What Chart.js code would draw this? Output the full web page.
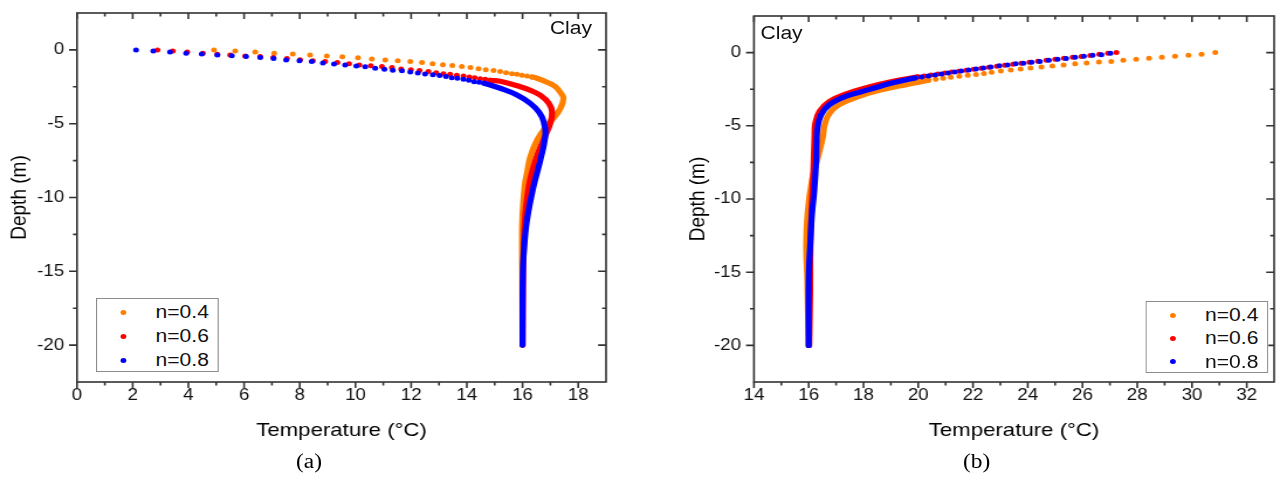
<!DOCTYPE html>
<html>
<head>
<meta charset="utf-8">
<script src="https://cdn.jsdelivr.net/npm/chart.js@4.4.1/dist/chart.umd.min.js"></script>
<style>
  html, body { margin: 0; padding: 0; background: #fff; }
  body { width: 1279px; height: 477px; overflow: hidden; position: relative; }
  /* the original figure is stretched sideways, so the whole stage is too */
  #stage { position: absolute; left: 0; top: 0; width: 1093px; height: 477px;
           transform: scaleX(1.17); transform-origin: 0 0;
           font-family: "Liberation Sans", Arial, sans-serif; color: #111; }
  canvas { position: absolute; top: 0; }
  .txt { position: absolute; white-space: nowrap; font-size: 18px; line-height: 18px; }
  .cap { position: absolute; white-space: nowrap; font-family: "Liberation Serif", "Times New Roman", serif;
         font-size: 20px; line-height: 20px; color: #000; }
  .legend { position: absolute; border: 1px solid #8c8c8c; background: #fff; box-sizing: border-box; }
  .legend .row { position: relative; height: 24px; line-height: 24px; font-size: 18px; }
  .legend .dot { position: absolute; left: 20px; top: 9.5px; width: 5px; height: 5px; border-radius: 50%; }
  .legend .lbl { position: absolute; left: 50px; top: 0; }
</style>
</head>
<body>
<div id="stage">
  <canvas id="chartA" width="548" height="477" style="left:0"></canvas>
  <canvas id="chartB" width="545" height="477" style="left:548px"></canvas>

  <div class="txt" style="left:470px; top:19px">Clay</div>
  <div class="txt" style="left:650px; top:24px">Clay</div>

  <div class="legend" style="left:82px; top:298px; width:105px; height:74px; padding-top:1px">
    <div class="row"><span class="dot" style="background:#ff8000"></span><span class="lbl">n=0.4</span></div>
    <div class="row"><span class="dot" style="background:#ff0000"></span><span class="lbl">n=0.6</span></div>
    <div class="row"><span class="dot" style="background:#0000ff"></span><span class="lbl">n=0.8</span></div>
  </div>
  <div class="legend" style="left:979px; top:301px; width:105px; height:72px; padding-top:1px">
    <div class="row" style="height:23.3px"><span class="dot" style="background:#ff8000"></span><span class="lbl">n=0.4</span></div>
    <div class="row" style="height:23.3px"><span class="dot" style="background:#ff0000"></span><span class="lbl">n=0.6</span></div>
    <div class="row" style="height:23.3px"><span class="dot" style="background:#0000ff"></span><span class="lbl">n=0.8</span></div>
  </div>

  <div class="cap" style="left:253px; top:451px">(a)</div>
  <div class="cap" style="left:823px; top:451px">(b)</div>
</div>

<script>
// ---- axis ticks ----
const xTicksA = [0, 2, 4, 6, 8, 10, 12, 14, 16, 18];
const xMinorA = [1, 3, 5, 7, 9, 11, 13, 15, 17];
const xTicksB = [14, 16, 18, 20, 22, 24, 26, 28, 30, 32];
const xMinorB = [15, 17, 19, 21, 23, 25, 27, 29, 31];
const yTicks = [-20, -15, -10, -5, 0];
const yMinor = [-17.5, -12.5, -7.5, -2.5];

// ---- (a) ----
// separate dots near the surface
const a04DotT = [4.92, 5.68, 6.40, 7.08, 7.75, 8.37, 8.97, 9.53, 10.09, 10.59, 11.07, 11.52, 11.97, 12.39, 12.77, 13.14, 13.48, 13.82, 14.13, 14.42, 14.68, 14.96, 15.20, 15.41, 15.62, 15.80, 15.98, 16.16, 16.34];
const a04DotD = [0, -0.07, -0.14, -0.22, -0.27, -0.34, -0.41, -0.47, -0.54, -0.61, -0.68, -0.73, -0.79, -0.86, -0.93, -1.00, -1.06, -1.13, -1.20, -1.27, -1.34, -1.40, -1.47, -1.54, -1.61, -1.65, -1.72, -1.76, -1.83];
// dense part (dots merge into a band)
const a04LineT = [16.34, 16.52, 16.88, 17.18, 17.38, 17.47, 17.36, 17.11, 16.88, 16.52, 16.28, 16.16, 16.08, 16.00, 15.98, 15.99, 16.00];
const a04LineD = [-1.83, -1.92, -2.19, -2.49, -2.94, -3.28, -3.96, -4.63, -5.09, -6.11, -7.24, -8.34, -9.16, -11.06, -12.89, -15.0, -20.0];

const a06DotT = [2.89, 3.44, 3.96, 4.52, 5.04, 5.50, 6.04, 6.58, 7.05, 7.54, 8.01, 8.47, 8.91, 9.35, 9.77, 10.14, 10.55, 10.95, 11.31, 11.64, 11.99, 12.30, 12.62, 12.90, 13.16, 13.40, 13.64, 13.88, 14.09, 14.28, 14.48, 14.66, 14.84];
const a06DotD = [0, -0.07, -0.14, -0.22, -0.29, -0.34, -0.41, -0.45, -0.52, -0.59, -0.66, -0.73, -0.79, -0.86, -0.93, -1.02, -1.07, -1.13, -1.20, -1.29, -1.34, -1.40, -1.47, -1.54, -1.61, -1.65, -1.72, -1.76, -1.83, -1.88, -1.95, -1.99, -2.06];
const a06LineT = [14.84, 15.20, 15.84, 16.33, 16.64, 16.94, 17.06, 17.00, 16.80, 16.55, 16.38, 16.24, 16.10, 16.04, 16.02, 16.00];
const a06LineD = [-2.06, -2.13, -2.45, -2.78, -3.08, -3.60, -4.18, -4.97, -5.90, -7.00, -8.00, -9.09, -11.06, -13.57, -16.5, -20.0];

const a08DotT = [2.12, 2.74, 3.34, 3.92, 4.48, 5.04, 5.56, 6.07, 6.58, 7.06, 7.51, 7.99, 8.43, 8.83, 9.23, 9.63, 10.03, 10.35, 10.71, 11.04, 11.34, 11.67, 11.97, 12.24, 12.50, 12.78, 13.02, 13.25, 13.46, 13.66, 13.88, 14.07, 14.26, 14.44, 14.62];
const a08DotD = [0, -0.07, -0.14, -0.22, -0.27, -0.34, -0.39, -0.45, -0.52, -0.59, -0.68, -0.73, -0.79, -0.88, -0.95, -1.02, -1.09, -1.15, -1.24, -1.31, -1.38, -1.42, -1.49, -1.56, -1.63, -1.68, -1.74, -1.81, -1.88, -1.92, -1.99, -2.06, -2.15, -2.19, -2.26];
const a08LineT = [14.62, 15.20, 15.80, 16.28, 16.58, 16.76, 16.82, 16.64, 16.39, 16.16, 16.06, 16.01, 16.00];
const a08LineD = [-2.26, -2.60, -3.05, -3.62, -4.19, -4.86, -5.77, -7.46, -9.29, -11.53, -13.34, -15.13, -20.0];

// ---- (b) ----
const b04DotT = [30.85, 30.35, 29.87, 29.38, 28.90, 28.43, 27.96, 27.49, 27.05, 26.60, 26.15, 25.73, 25.31, 24.90, 24.50, 24.10, 23.74, 23.38, 23.02, 22.68, 22.40, 22.11, 21.81, 21.50, 21.19, 20.91, 20.64, 20.37];
const b04DotD = [0, -0.12, -0.18, -0.25, -0.32, -0.39, -0.46, -0.53, -0.60, -0.64, -0.71, -0.77, -0.84, -0.91, -0.98, -1.05, -1.12, -1.18, -1.25, -1.35, -1.42, -1.49, -1.55, -1.62, -1.69, -1.76, -1.82, -1.89];
const b04LineT = [20.37, 19.88, 19.04, 18.20, 17.35, 16.93, 16.69, 16.57, 16.51, 16.31, 16.12, 15.96, 15.91, 15.95, 15.99];
const b04LineD = [-1.89, -2.08, -2.38, -2.76, -3.34, -3.79, -4.36, -5.05, -5.84, -7.33, -8.70, -10.96, -13.27, -15.55, -20.0];

const b06DotT = [27.24, 26.93, 26.61, 26.28, 25.96, 25.64, 25.32, 25.00, 24.68, 24.37, 24.06, 23.76, 23.46, 23.16, 22.87, 22.58, 22.30, 22.02, 21.75, 21.48, 21.22, 20.97, 20.72, 20.47, 20.22, 19.98];
const b06DotD = [0, -0.05, -0.12, -0.19, -0.26, -0.32, -0.39, -0.46, -0.52, -0.59, -0.66, -0.72, -0.79, -0.86, -0.93, -1.00, -1.07, -1.13, -1.20, -1.27, -1.33, -1.40, -1.46, -1.53, -1.60, -1.66];
const b06LineT = [19.98, 19.04, 18.20, 17.35, 16.75, 16.39, 16.24, 16.21, 16.17, 16.10, 16.06, 16.05, 16.02];
const b06LineD = [-1.66, -1.97, -2.35, -2.83, -3.34, -4.02, -4.82, -5.73, -8.01, -10.96, -13.5, -16.5, -20.0];

const b08DotT = [27.02, 26.69, 26.37, 26.05, 25.73, 25.40, 25.09, 24.77, 24.44, 24.14, 23.84, 23.56, 23.26, 22.96, 22.65, 22.38, 22.11, 21.84, 21.57, 21.33, 21.09, 20.85, 20.61, 20.37, 20.12, 19.88];
const b08DotD = [-0.04, -0.14, -0.18, -0.25, -0.32, -0.40, -0.46, -0.53, -0.60, -0.66, -0.73, -0.77, -0.84, -0.89, -0.98, -1.05, -1.12, -1.18, -1.25, -1.32, -1.39, -1.46, -1.53, -1.60, -1.67, -1.73];
const b08LineT = [19.88, 19.04, 18.20, 17.35, 16.75, 16.45, 16.33, 16.29, 16.27, 16.20, 16.12, 16.05, 16.00, 16.00];
const b08LineD = [-1.73, -2.08, -2.53, -2.99, -3.56, -4.25, -5.05, -5.96, -7.5, -9.5, -11.0, -13.27, -15.55, -20.0];

const ORANGE = '#ff8000', RED = '#ff0000', BLUE = '#0000ff';

function pts(T, D) {
  return T.map((t, i) => ({ x: t, y: D[i] }));
}
function dots(T, D, color, order) {
  return { data: pts(T, D), showLine: false, pointRadius: 2.5, pointBorderWidth: 0,
           pointBackgroundColor: color, backgroundColor: color, order: order };
}
function band(T, D, color, order) {
  return { data: pts(T, D), showLine: true, pointRadius: 0, borderColor: color,
           borderWidth: 5.2, tension: 0.4, borderCapStyle: 'round', borderJoinStyle: 'round', order: order };
}

// frame plus major/minor ticks: bottom/left outward, top/right inward
const frameTicks = {
  id: 'frameTicks',
  afterDraw(chart, args, o) {
    const ctx = chart.ctx, a = chart.chartArea, x = chart.scales.x, y = chart.scales.y;
    ctx.save();
    ctx.strokeStyle = '#333';
    ctx.lineWidth = 1.6;
    ctx.strokeRect(a.left, a.top, a.right - a.left, a.bottom - a.top);
    ctx.beginPath();
    const xt = (v, len) => {
      const p = x.getPixelForValue(v);
      ctx.moveTo(p, a.bottom); ctx.lineTo(p, a.bottom + len);
      ctx.moveTo(p, a.top); ctx.lineTo(p, a.top + len);
    };
    const yt = (v, len) => {
      const p = y.getPixelForValue(v);
      ctx.moveTo(a.left - len, p); ctx.lineTo(a.left, p);
      ctx.moveTo(a.right - len, p); ctx.lineTo(a.right, p);
    };
    o.xMajor.forEach(v => xt(v, 6));
    o.xMinor.forEach(v => xt(v, 3.5));
    yTicks.forEach(v => yt(v, 6.8));
    yMinor.forEach(v => yt(v, 3.4));
    ctx.stroke();
    ctx.restore();
  }
};

Chart.defaults.font.family = "'Liberation Sans', Arial, sans-serif";
Chart.defaults.color = '#111';

function noPad(s) {
  s.paddingTop = 0; s.paddingBottom = 0; s.paddingLeft = 0; s.paddingRight = 0;
}

function makeChart(id, cfg) {
  return new Chart(document.getElementById(id), {
    type: 'scatter',
    data: { datasets: cfg.datasets },
    options: {
      responsive: false,
      animation: false,
      layout: { padding: cfg.padding },
      plugins: { legend: { display: false }, tooltip: { enabled: false },
                 frameTicks: { xMajor: cfg.xTicks, xMinor: cfg.xMinor } },
      scales: {
        x: {
          type: 'linear', min: cfg.xMin, max: cfg.xMax,
          afterBuildTicks: s => { s.ticks = cfg.xTicks.map(v => ({ value: v })); },
          afterFit: s => { s.height = 60; noPad(s); },
          grid: { display: false, drawTicks: false }, border: { display: false },
          ticks: { padding: 4, autoSkip: false, maxRotation: 0, font: { size: 16 }, color: '#111' },
          title: { display: true, text: 'Temperature (°C)', font: { size: 19 }, color: '#000', padding: 0 }
        },
        y: {
          type: 'linear', min: -22.5, max: 2.5,
          afterBuildTicks: s => { s.ticks = yTicks.map(v => ({ value: v })); },
          afterFit: s => { s.width = cfg.yWidth; noPad(s); },
          grid: { display: false, drawTicks: false }, border: { display: false },
          ticks: { padding: 11, autoSkip: false, font: { size: 16 }, color: '#111' },
          title: { display: true, text: 'Depth (m)', font: { size: 19 }, color: '#000', padding: 0 }
        }
      }
    },
    plugins: [frameTicks]
  });
}

makeChart('chartA', {
  xMin: 0, xMax: 19, xTicks: xTicksA, xMinor: xMinorA,
  padding: { left: 5.5, right: 30, top: 13, bottom: 35 }, yWidth: 60.3,
  datasets: [
    dots(a04DotT, a04DotD, ORANGE, 2), band(a04LineT, a04LineD, ORANGE, 2),
    dots(a06DotT, a06DotD, RED, 1), band(a06LineT, a06LineD, RED, 1),
    dots(a08DotT, a08DotD, BLUE, 0), band(a08LineT, a08LineD, BLUE, 0)
  ]
});

makeChart('chartB', {
  xMin: 14, xMax: 33, xTicks: xTicksB, xMinor: xMinorB,
  padding: { left: 37.3, right: 2.4, top: 16, bottom: 35 }, yWidth: 59.1,
  datasets: [
    dots(b04DotT, b04DotD, ORANGE, 2), band(b04LineT, b04LineD, ORANGE, 2),
    dots(b06DotT, b06DotD, RED, 1), band(b06LineT, b06LineD, RED, 1),
    dots(b08DotT, b08DotD, BLUE, 0), band(b08LineT, b08LineD, BLUE, 0)
  ]
});
</script>
</body>
</html>
